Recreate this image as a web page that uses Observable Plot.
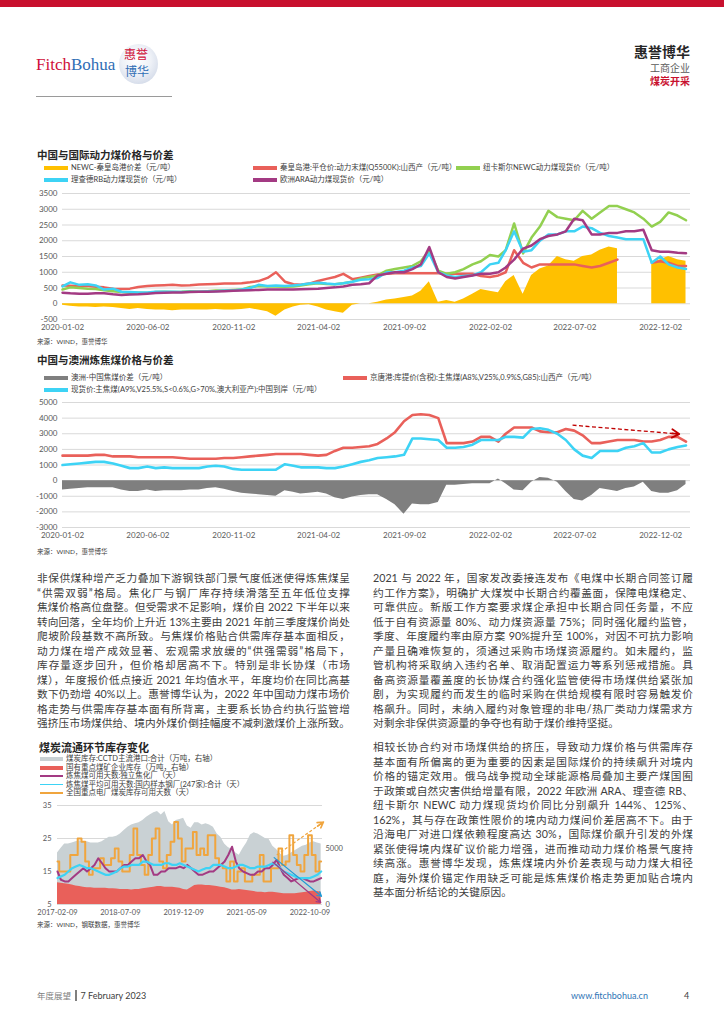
<!DOCTYPE html>
<html lang="zh-CN">
<head>
<meta charset="utf-8">
<script src="https://cdn.jsdelivr.net/npm/d3@7"></script>
<script src="https://cdn.jsdelivr.net/npm/@observablehq/plot@0.6"></script>
<style>
html,body{margin:0;padding:0;background:#fff;}
#page{position:relative;width:724px;height:1024px;overflow:hidden;font-family:Lato,"Noto Sans CJK SC",sans-serif;color:#404040;}
.a{position:absolute;white-space:nowrap;}
.ctitle{font-weight:700;font-size:10.5px;color:#262626;line-height:14px;}
.leg{font-size:7.5px;color:#404040;line-height:8px;}
.src{font-size:6.5px;color:#404040;line-height:8px;}
.pl{position:absolute;height:14.5px;line-height:14.5px;font-size:10.7px;color:#404040;white-space:nowrap;text-align:justify;text-align-last:justify;}
.pl.last{text-align-last:left;}
</style>
</head>
<body>
<div id="page">
  <div class="a" style="left:0;top:0;width:724px;height:7px;background:#C8102E;"></div>
  <div class="a" style="left:36px;top:55px;font-family:'Liberation Serif','DejaVu Serif',serif;font-size:17px;line-height:20px;"><span style="color:#D0103A">Fitch</span><span style="color:#2F6DB5">Bohua</span></div>
  <div class="a" style="left:119px;top:44px;width:39px;height:40px;border-radius:50%;background:radial-gradient(circle at 45% 40%,#ffffff 0%,#eef1f7 45%,#c3cde0 100%);"></div>
  <div class="a" style="left:124px;top:46px;font-size:12px;line-height:17px;color:#D0103A;">惠誉</div>
  <div class="a" style="left:125px;top:63px;font-size:12px;line-height:17px;color:#2F6DB5;">博华</div>
  <div class="a" style="left:36px;top:96px;width:136px;height:1px;background:#9a9a9a;"></div>
  <div class="a" style="right:34px;top:43px;font-size:14px;font-weight:700;color:#262626;line-height:18px;">惠誉博华</div>
  <div class="a" style="right:34px;top:62px;font-size:10px;color:#595959;line-height:13px;">工商企业</div>
  <div class="a" style="right:34px;top:75px;font-size:10px;font-weight:700;color:#C8102E;line-height:13px;">煤炭开采</div>

  <div class="a ctitle" style="left:37px;top:148px;">中国与国际动力煤价格与价差</div>
  <div class="a src" style="left:37px;top:338px;">来源：WIND，惠誉博华</div>
  <div class="a ctitle" style="left:37px;top:353px;">中国与澳洲炼焦煤价格与价差</div>
  <div class="a src" style="left:37px;top:548px;">来源：WIND，惠誉博华</div>
  <div class="a ctitle" style="left:39px;top:741px;font-size:11px;">煤炭流通环节库存变化</div>
  <div class="a src" style="left:37px;top:921px;">来源：WIND，钢联数据，惠誉博华</div>

  <div class="a" style="left:37px;top:990px;font-size:8.5px;color:#808080;line-height:12px;">年度展望<span style="display:inline-block;width:1.5px;height:11px;background:#7f7f7f;margin:0 4px;vertical-align:-2px;"></span><span style="color:#404040;font-size:9px;">7 February 2023</span></div>
  <div class="a" style="left:571px;top:990px;font-size:9px;color:#2E74B5;line-height:12px;">www.fitchbohua.cn</div>
  <div class="a" style="left:684px;top:990px;font-size:9px;color:#404040;line-height:12px;">4</div>
</div>
<script>
// ---------------- DATA ----------------
const semiMonthDates = ["2020-01-02","2020-01-16","2020-02-01","2020-02-16","2020-03-01","2020-03-16","2020-04-01","2020-04-16","2020-05-01","2020-05-16","2020-06-01","2020-06-16","2020-07-01","2020-07-16","2020-08-01","2020-08-16","2020-09-01","2020-09-16","2020-10-01","2020-10-16","2020-11-01","2020-11-16","2020-12-01","2020-12-16",
"2021-01-01","2021-01-16","2021-02-01","2021-02-16","2021-03-01","2021-03-16","2021-04-01","2021-04-16","2021-05-01","2021-05-16","2021-06-01","2021-06-16","2021-07-01","2021-07-16","2021-08-01","2021-08-16","2021-09-01","2021-09-16","2021-10-01","2021-10-16","2021-11-01","2021-11-16","2021-12-01","2021-12-16",
"2022-01-01","2022-01-16","2022-02-01","2022-02-16","2022-03-01","2022-03-16","2022-04-01","2022-04-16","2022-05-01","2022-05-16","2022-06-01","2022-06-16","2022-07-01","2022-07-16","2022-08-01","2022-08-16","2022-09-01","2022-09-16","2022-10-01","2022-10-16","2022-11-01","2022-11-16","2022-12-01","2022-12-16",
"2023-01-01","2023-01-16"];

// Chart 1: 中国与国际动力煤价格与价差 (元/吨)
const newcQhdSpread = [-50,-80,-100,-100,-120,-100,-120,-150,-180,-150,-180,-200,-200,-220,-200,-200,-200,-200,-180,-200,-200,-180,-150,-200,
-250,-400,-200,-100,-50,-30,-100,-200,-250,-300,-50,0,0,50,120,150,200,250,400,700,50,100,50,150,
300,450,400,350,700,900,300,900,1100,1200,1500,1400,1350,1500,1550,1700,1800,1750,null,null,null,1300,1400,1500,
1400,1350];
const qhdPrice = [580,570,560,560,540,520,480,470,480,530,560,580,590,600,580,590,610,620,630,640,640,650,680,720,
820,1000,700,620,600,640,720,790,850,950,780,830,880,930,950,970,970,970,970,970,970,950,950,950,
950,880,850,900,1000,1700,1300,1150,1250,1250,1250,1250,1250,1200,1150,1200,1300,1400,null,null,null,1300,1350,1300,
1200,1200];
const newcPrice = [450,520,500,480,470,430,400,370,350,350,340,370,380,370,380,400,380,400,420,420,440,450,530,560,
550,550,540,550,580,620,650,630,620,650,700,800,850,900,1050,1100,1150,1200,1350,1700,1050,950,1000,1100,
1250,1350,1550,1500,1700,2550,1600,2100,2450,2950,2750,2700,2650,2950,2700,2900,3100,3100,3000,2900,2700,2450,2600,2900,
2800,2650];
const rbPrice = [550,680,600,620,580,450,480,380,370,360,360,380,380,380,370,380,380,390,400,420,420,450,500,600,
560,580,560,580,600,640,670,640,620,650,700,760,780,820,1000,1000,1050,1150,1200,1600,1000,900,850,880,
900,1000,1250,1300,1700,2300,1650,1700,2000,2200,2200,2300,2300,2450,2400,2250,2150,2100,2050,2050,2050,1300,1500,1250,
1150,1100];
const araPrice = [350,330,320,320,330,330,300,280,290,300,320,340,350,360,360,370,380,380,390,400,410,420,430,440,
450,450,450,450,460,470,480,500,520,550,600,620,650,900,950,1000,1000,1100,1250,1800,1000,850,800,850,
900,950,950,1000,1150,1400,1750,1850,2050,2150,2200,2300,2700,2650,2200,2200,2250,2250,2300,2300,2350,1700,1650,1650,
1620,1600];

// Chart 2: 中国与澳洲炼焦煤价格与价差 (元/吨)
const ausChinaSpread = [-600,-550,-500,-450,-450,-450,-450,-600,-700,-700,-600,-700,-650,-650,-650,-600,-600,-500,-450,-550,-700,-800,-850,-900,
-950,-1000,-650,-750,-850,-800,-750,-850,-1100,-1200,-1050,-950,-900,-900,-1200,-1550,-2150,-1500,-1550,-1550,-1400,-300,-300,-250,
-200,-200,-200,100,-200,-600,-650,-100,200,150,-100,-700,-1200,-1300,-950,-500,-600,-700,-500,-400,-100,-700,-800,-800,
-650,-250];
const jingtangPrice = [1600,1600,1600,1600,1650,1650,1550,1550,1550,1500,1500,1500,1500,1500,1450,1400,1400,1400,1400,1450,1450,1500,1550,1600,
1650,1700,1700,1700,1700,1650,1600,1650,1900,2100,2100,2150,2200,2350,2700,3100,3800,4200,4250,4200,4000,2400,2400,2400,
2500,2800,2800,2500,3000,3400,3400,3400,3150,3100,3100,3300,3200,2900,2400,2400,2500,2600,2600,2600,2500,2500,2600,2800,
2800,2500];
const ausCfrPrice = [1000,1050,1100,1150,1200,1200,1100,950,800,800,900,800,850,800,800,800,800,900,950,900,750,700,700,700,
700,700,1050,950,850,850,850,800,800,900,1050,1200,1300,1450,1500,1550,1650,2700,2700,2650,2600,2100,2100,2150,
2300,2600,2600,2600,2800,2800,2750,3300,3350,3250,3000,2600,2000,1600,1450,1900,1900,1900,2100,2200,2400,1800,1800,2000,
2150,2250];
const c2Trend = [{x1:"2022-06-28", y1:3550, x2:"2023-01-04", y2:2980}];

// Chart 3: 煤炭流通环节库存变化 (monthly)
const monthDates = ["2017-02-09","2017-03-09","2017-04-09","2017-05-09","2017-06-09","2017-07-09","2017-08-09","2017-09-09","2017-10-09","2017-11-09","2017-12-09",
"2018-01-09","2018-02-09","2018-03-09","2018-04-09","2018-05-09","2018-06-09","2018-07-09","2018-08-09","2018-09-09","2018-10-09","2018-11-09","2018-12-09",
"2019-01-09","2019-02-09","2019-03-09","2019-04-09","2019-05-09","2019-06-09","2019-07-09","2019-08-09","2019-09-09","2019-10-09","2019-11-09","2019-12-09",
"2020-01-09","2020-02-09","2020-03-09","2020-04-09","2020-05-09","2020-06-09","2020-07-09","2020-08-09","2020-09-09","2020-10-09","2020-11-09","2020-12-09",
"2021-01-09","2021-02-09","2021-03-09","2021-04-09","2021-05-09","2021-06-09","2021-07-09","2021-08-09","2021-09-09","2021-10-09","2021-11-09","2021-12-09",
"2022-01-09","2022-02-09","2022-03-09","2022-04-09","2022-05-09","2022-06-09","2022-07-09","2022-08-09","2022-09-09","2022-10-09","2022-11-09","2022-12-09",
"2023-01-09"];
const cctdPortStock = [4600,5000,5400,5400,5500,5600,5700,5600,5600,5500,5500,
5500,5600,5800,6000,6000,6100,6300,6600,6900,7100,7200,7300,
7500,7800,8000,8200,8300,8000,8300,7400,7100,7500,7600,7700,
7000,6800,7300,7300,7100,7200,7100,6900,6300,6000,5400,5100,
4900,4600,4400,5000,5500,6200,6400,6300,6100,5900,5800,5200,
4900,4500,4300,4400,4600,4800,5000,5200,5300,5500,5600,5500,
5400];
const keyMineStock = [1950,1900,1850,1800,1750,1650,1600,1550,1500,1500,1450,
1450,1450,1450,1400,1400,1380,1350,1350,1350,1300,1350,1350,
1400,1450,1500,1550,1600,1600,1550,1550,1550,1500,1450,1350,
1300,1500,1700,1750,1750,1700,1700,1650,1600,1550,1500,1400,
1300,1300,1350,1300,1250,1200,1150,1100,1100,1050,1100,1100,
1050,1000,950,950,950,950,1000,1050,1100,1150,1200,1150,
1100];
const cokingDaysIndep = [15,12.5,12,12,13,14,15,16,15,16,17,
19,17.5,16,15,15,15,16,17,17,18,19,19,
20,18,17,14,14,15,15,16,16,16,16.5,16,
17,16,15,14,14,14.5,15,15,16,17,18,20,
22.5,18,16,15,14.5,14,14,15,15,16,16,17,
18.5,16,14,13,12,12.5,13,13,12.5,12,12,12.5,
13];
const cokingDaysMill = [13,13.5,14,15,16,16.5,17,16.5,16,16,15.5,
15,14.5,14,14,14.5,15,16,16.5,16.5,17,17,17,
18,18,17.5,17,17,17,17.5,17.5,17,17,17.5,17,
16.5,16,15.5,15,15.5,16,16,17,17,17,16.5,16,
16,16.5,17,17,16.5,16,16,16.5,16.5,16.5,17,17.5,
17,16,15,14.5,14,13.5,13,13,13,13,13.5,14,
15];
const powerPlantDays = [18,15,15,15,20,20,25,24,18,14,16,
16,19,17,17,19,22,18,15,15,20,28,20,
17,14,20,25,28,18,16,20,24,30,25,18,
22,22,27,20,22,20,26,26,19,17,16,12,
18,12,15,16,12,12,14,14,20,12,12,16,
16,22,17,18,26,20,17,15,20,26,20,15,
18];
const c3Trends = [
  {series:"power", x1:"2022-01-10", y1:20, x2:"2023-01-28", y2:30},
  {series:"mill",  x1:"2021-12-20", y1:19.2, x2:"2023-01-12", y2:7.5},
  {series:"indep", x1:"2021-12-10", y1:17.8, x2:"2023-01-06", y2:5.6}
];

// Tick labels
const c12XTicks = ["2020-01-02","2020-06-02","2020-11-02","2021-04-02","2021-09-02","2022-02-02","2022-07-02","2022-12-02"];
const c1YTicks = [-500,0,500,1000,1500,2000,2500,3000,3500];
const c2YTicks = [-3000,-2000,-1000,0,1000,2000,3000,4000,5000];
const c3XTicks = ["2017-02-09","2018-07-09","2019-12-09","2021-05-09","2022-10-09"];
const c3LeftTicks = [5,15,25,35];
const c3RightTicks = [0,5000];

// Legend names
const c1Names = ["NEWC-秦皇岛港价差（元/吨）","秦皇岛港:平仓价:动力末煤(Q5500K):山西产（元/吨）","纽卡斯尔NEWC动力煤现货价（元/吨）","理查德RB动力煤现货价（元/吨）","欧洲ARA动力煤现货价（元/吨）"];
const c2Names = ["澳洲-中国焦煤价差（元/吨）","京唐港:库提价(含税):主焦煤(A8%,V25%,0.9%S,G85):山西产（元/吨）","现货价:主焦煤(A9%,V25.5%,S<0.6%,G>70%,澳大利亚产):中国到岸（元/吨）"];
const c3Names = ["煤炭库存:CCTD主流港口:合计（万吨，右轴）","国有重点煤矿企业库存（万吨，右轴）","炼焦煤可用天数:独立焦化厂（天）","炼焦煤平均可用天数:国内样本钢厂(247家):合计（天）","全国重点电厂煤炭库存可用天数（天）"];

// Body text
const leftParaLines = [
"非保供煤种增产乏力叠加下游钢铁部门景气度低迷使得炼焦煤呈",
"“供需双弱”格局。焦化厂与钢厂库存持续滑落至五年低位支撑",
"焦煤价格高位盘整。但受需求不足影响，煤价自 2022 下半年以来",
"转向回落，全年均价上升近 13%主要由 2021 年前三季度煤价尚处",
"爬坡阶段基数不高所致。与焦煤价格贴合供需库存基本面相反，",
"动力煤在增产成效显著、宏观需求放缓的“供强需弱”格局下，",
"库存量逐步回升，但价格却居高不下。特别是非长协煤（市场",
"煤），年度报价低点接近 2021 年均值水平，年度均价在同比高基",
"数下仍劲增 40%以上。惠誉博华认为，2022 年中国动力煤市场价",
"格走势与供需库存基本面有所背离，主要系长协合约执行监管增",
"强挤压市场煤供给、境内外煤价倒挂幅度不减刺激煤价上涨所致。"];
const rightPara1Lines = [
"2021 与 2022 年，国家发改委接连发布《电煤中长期合同签订履",
"约工作方案》，明确扩大煤炭中长期合约覆盖面，保障电煤稳定、",
"可靠供应。新版工作方案要求煤企承担中长期合同任务量，不应",
"低于自有资源量 80%、动力煤资源量 75%；同时强化履约监管，",
"季度、年度履约率由原方案 90%提升至 100%，对因不可抗力影响",
"产量且确难恢复的，须通过采购市场煤资源履约。如未履约，监",
"管机构将采取纳入违约名单、取消配置运力等系列惩戒措施。具",
"备高资源量覆盖度的长协煤合约强化监管使得市场煤供给紧张加",
"剧，为实现履约而发生的临时采购在供给规模有限时容易触发价",
"格飙升。同时，未纳入履约对象管理的非电/热厂类动力煤需求方",
"对剩余非保供资源量的争夺也有助于煤价维持坚挺。"];
const rightPara2Lines = [
"相较长协合约对市场煤供给的挤压，导致动力煤价格与供需库存",
"基本面有所偏离的更为重要的因素是国际煤价的持续飙升对境内",
"价格的锚定效用。俄乌战争搅动全球能源格局叠加主要产煤国囿",
"于政策或自然灾害供给增量有限，2022 年欧洲 ARA、理查德 RB、",
"纽卡斯尔 NEWC 动力煤现货均价同比分别飙升 144%、125%、",
"162%，其与存在政策性限价的境内动力煤间价差居高不下。由于",
"沿海电厂对进口煤依赖程度高达 30%，国际煤价飙升引发的外煤",
"紧张使得境内煤矿议价能力增强，进而推动动力煤价格景气度持",
"续高涨。惠誉博华发现，炼焦煤境内外价差表现与动力煤大相径",
"庭，海外煤价锚定作用缺乏可能是炼焦煤价格走势更加贴合境内",
"基本面分析结论的关键原因。"];

// ---------------- STYLES ----------------
const C = {orange:"#FFC000", red:"#E9605A", green:"#92D050", cyan:"#3DD3F5", purple:"#A33A83", gray:"#7F7F7F",
  portGray:"#C9D1D4", powerOrange:"#F0A53E", darkRed:"#C00000", arrowBlue:"#1E9AD6", grid:"#D9D9D9"};
const axisStyle = {background:"transparent", fontFamily:"Lato, 'Noto Sans CJK SC', sans-serif", fontSize:"8px", color:"#595959", overflow:"visible"};
const axisStyle3 = {...axisStyle, fontSize:"7.5px"};
const plainNum = d => String(d);
const page = document.getElementById("page");
const D = s => new Date(s);

function place(node, left, top, w) {
  const d = document.createElement("div");
  d.style.cssText = `position:absolute;left:${left}px;top:${top}px;width:${w}px;`;
  d.appendChild(node); page.appendChild(d);
}
function legendItem(name, color, kind, x, y) {
  const sw = document.createElement("div");
  const h = kind === "thin" ? 1.6 : 4;
  const w = (kind === "area" || kind === "thin") ? 23 : 24;
  sw.className = "a";
  sw.style.cssText = `left:${x}px;top:${y - h/2}px;width:${w}px;height:${h}px;background:${color};`;
  page.appendChild(sw);
  const t = document.createElement("div");
  t.className = "a leg";
  t.style.left = (x + w + 3) + "px";
  t.style.top = (y - 4) + "px";
  t.textContent = name;
  page.appendChild(t);
}
function paragraph(lines, x, y0, w, justifyLast) {
  lines.forEach((ln, i) => {
    const d = document.createElement("div");
    d.className = "pl" + ((i === lines.length - 1 && !justifyLast) ? " last" : "");
    d.style.left = x + "px"; d.style.top = (y0 + i * 14.5) + "px"; d.style.width = w + "px";
    d.textContent = ln;
    page.appendChild(d);
  });
}

// ---------------- LEGENDS ----------------
const c1Colors = [C.orange, C.red, C.green, C.cyan, C.purple];
const c1Pos = [[44,168],[253,168],[456,168],[44,180],[253,180]];
c1Names.forEach((n,i) => legendItem(n, c1Colors[i], "line", c1Pos[i][0], c1Pos[i][1]));
const c2Colors = [C.gray, C.red, C.cyan];
const c2Pos = [[44,378],[343,378],[44,390]];
c2Names.forEach((n,i) => legendItem(n, c2Colors[i], "line", c2Pos[i][0], c2Pos[i][1]));
const c3Colors = [C.portGray, C.red, C.purple, C.cyan, C.powerOrange];
const c3Kinds = ["area","area","thin","thin","thin"];
c3Names.forEach((n,i) => legendItem(n, c3Colors[i], c3Kinds[i], 40, 759 + i * 8.5));

// ---------------- TEXT ----------------
paragraph(leftParaLines, 37, 571, 313, true);
paragraph(rightPara1Lines, 373, 571, 320, false);
paragraph(rightPara2Lines, 373, 740, 320, false);

// ---------------- CHART 1 ----------------
const rows1 = semiMonthDates.map((d,i) => ({date:D(d), spread:newcQhdSpread[i], qhd:qhdPrice[i], newc:newcPrice[i], rb:rbPrice[i], ara:araPrice[i]}));
const xDate12 = {type:"utc", domain:[D("2020-01-02"), D("2023-01-24")], ticks:c12XTicks.map(D), tickFormat:d3.utcFormat("%Y-%m-%d"), tickSize:0, tickPadding:5, label:null};
const plot1 = Plot.plot({
  width:700, height:150, marginLeft:62, marginRight:10, marginTop:8, marginBottom:16,
  style:axisStyle,
  x:xDate12,
  y:{domain:[-500,3500], ticks:c1YTicks, tickFormat:plainNum, tickSize:0, tickPadding:5, label:null},
  marks:[
    Plot.ruleY(c1YTicks, {stroke:C.grid, strokeWidth:1}),
    Plot.areaY(rows1, {x:"date", y1:0, y2:"spread", fill:C.orange}),
    Plot.lineY(rows1, {x:"date", y:"qhd", stroke:C.red, strokeWidth:2.5}),
    Plot.lineY(rows1, {x:"date", y:"newc", stroke:C.green, strokeWidth:2.5}),
    Plot.lineY(rows1, {x:"date", y:"rb", stroke:C.cyan, strokeWidth:2.5}),
    Plot.lineY(rows1, {x:"date", y:"ara", stroke:C.purple, strokeWidth:2.5})
  ]
});
place(plot1, 0, 185, 700);

// ---------------- CHART 2 ----------------
const rows2 = semiMonthDates.map((d,i) => ({date:D(d), spread:ausChinaSpread[i], jt:jingtangPrice[i], aus:ausCfrPrice[i]}));
const trend2 = c2Trend.map(t => ({x1:D(t.x1), y1:t.y1, x2:D(t.x2), y2:t.y2}));
const plot2 = Plot.plot({
  width:700, height:149, marginLeft:62, marginRight:10, marginTop:8, marginBottom:16,
  style:axisStyle,
  x:xDate12,
  y:{domain:[-3000,5000], ticks:c2YTicks, tickFormat:plainNum, tickSize:0, tickPadding:5, label:null},
  marks:[
    Plot.ruleY(c2YTicks, {stroke:C.grid, strokeWidth:1}),
    Plot.areaY(rows2, {x:"date", y1:0, y2:"spread", fill:C.gray}),
    Plot.lineY(rows2, {x:"date", y:"jt", stroke:C.red, strokeWidth:2.6}),
    Plot.lineY(rows2, {x:"date", y:"aus", stroke:C.cyan, strokeWidth:2.6}),
    Plot.link(trend2, {x1:"x1", y1:"y1", x2:"x2", y2:"y2", stroke:C.darkRed, strokeWidth:1.3, strokeDasharray:"4,2.5"}),
    Plot.arrow(trend2, {x1:"x1", y1:"y1", x2:"x2", y2:"y2", stroke:C.darkRed, strokeWidth:1.8, headLength:7, insetStart:100})
  ]
});
place(plot2, 0, 394, 700);

// ---------------- CHART 3 ----------------
const rows3 = monthDates.map((d,i) => ({date:D(d), port:cctdPortStock[i], mine:keyMineStock[i], indep:cokingDaysIndep[i], mill:cokingDaysMill[i], power:powerPlantDays[i]}));
const trend3 = c3Trends.map(t => ({series:t.series, x1:D(t.x1), y1:t.y1, x2:D(t.x2), y2:t.y2}));
const c3Dims = {width:360, height:122, marginLeft:57, marginRight:38, marginTop:8, marginBottom:15, style:axisStyle3};
const xDate3 = {type:"utc", domain:[D("2017-02-09"), D("2023-01-20")], ticks:c3XTicks.map(D), tickFormat:d3.utcFormat("%Y-%m-%d"), tickSize:0, tickPadding:5, label:null};
const plot3a = Plot.plot({...c3Dims,
  x:xDate3,
  y:{domain:[5,35], ticks:c3LeftTicks, tickFormat:plainNum, tickSize:0, tickPadding:6, label:null},
  marks:[Plot.ruleY(c3LeftTicks, {stroke:C.grid, strokeWidth:1})]
});
const plot3b = Plot.plot({...c3Dims,
  x:{...xDate3, axis:null},
  y:{domain:[0,8840], ticks:c3RightTicks, tickFormat:plainNum, axis:"right", tickSize:0, tickPadding:3, label:null},
  marks:[
    Plot.areaY(rows3, {x:"date", y1:0, y2:"port", fill:C.portGray}),
    Plot.areaY(rows3, {x:"date", y1:0, y2:"mine", fill:C.red})
  ]
});
const trendColor = {power:C.powerOrange, mill:C.arrowBlue, indep:C.purple};
const solid3 = trend3.filter(t => t.series !== "power");
const dashed3 = trend3.filter(t => t.series === "power");
const plot3c = Plot.plot({...c3Dims,
  x:{...xDate3, axis:null},
  y:{domain:[5,35], axis:null},
  marks:[
    Plot.lineY(rows3, {x:"date", y:"power", stroke:C.powerOrange, strokeWidth:2, curve:"step"}),
    Plot.lineY(rows3, {x:"date", y:"indep", stroke:C.purple, strokeWidth:2}),
    Plot.lineY(rows3, {x:"date", y:"mill", stroke:C.cyan, strokeWidth:2.2}),
    Plot.arrow(solid3, {x1:"x1", y1:"y1", x2:"x2", y2:"y2", stroke:d => trendColor[d.series], strokeWidth:1.2, headLength:6}),
    Plot.link(dashed3, {x1:"x1", y1:"y1", x2:"x2", y2:"y2", stroke:C.powerOrange, strokeWidth:1.2, strokeDasharray:"3,2"}),
    Plot.arrow(dashed3, {x1:"x1", y1:"y1", x2:"x2", y2:"y2", stroke:C.powerOrange, strokeWidth:1.6, headLength:6, insetStart:50})
  ]
});
place(plot3a, 0, 797, 360);
place(plot3b, 0, 797, 360);
place(plot3c, 0, 797, 360);
</script>
</body>
</html>
